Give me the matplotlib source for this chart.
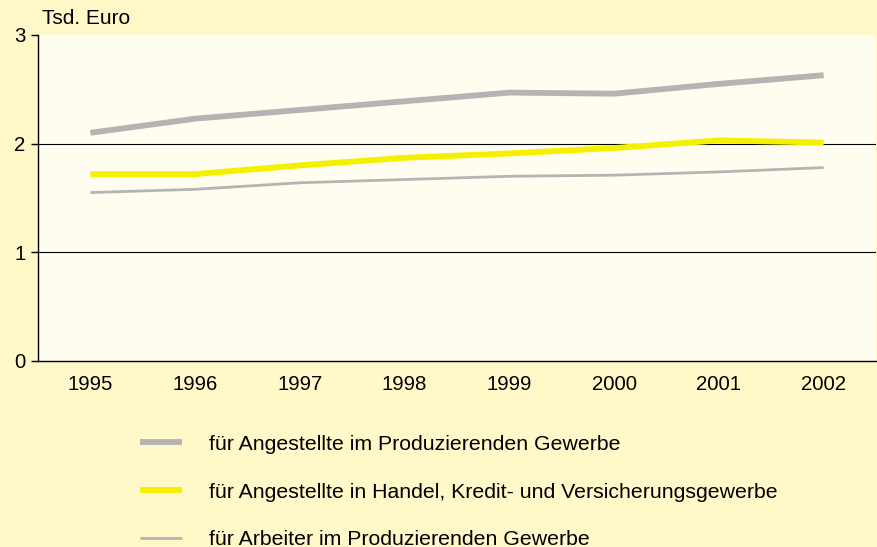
import matplotlib.pyplot as plt
import numpy as np

jahre = ['1995', '1996', '1997', '1998', '1999', '2000', '2001', '2002']
angestellte_prod = [2.10, 2.23, 2.31, 2.39, 2.47, 2.46, 2.55, 2.63]
angestellte_handel = [1.72, 1.72, 1.80, 1.87, 1.91, 1.96, 2.03, 2.01]
arbeiter_prod = [1.55, 1.58, 1.64, 1.67, 1.70, 1.71, 1.74, 1.78]

labels = ['für Angestellte im Produzierenden Gewerbe',
          'für Angestellte in Handel, Kredit- und Versicherungsgewerbe',
          'für Arbeiter im Produzierenden Gewerbe']

plt.rcParams['font.family'] = ['Liberation Sans', 'DejaVu Sans']

fig = plt.figure(figsize=(8.77, 5.47), dpi=100)
fig.patch.set_facecolor('#FFF8C8')
ax = fig.add_axes([38/877, 1-361/547, (876-38)/877, (361-35)/547])
ax.set_facecolor('#FFFDEF')

x = np.arange(len(jahre))
l1, = ax.plot(x, angestellte_prod, color='#B4B4B4', lw=4.2, solid_capstyle='butt', zorder=3)
l2, = ax.plot(x, angestellte_handel, color='#F5F000', lw=4.2, solid_capstyle='butt', zorder=3)
l3, = ax.plot(x, arbeiter_prod, color='#B4B4B4', lw=2.0, solid_capstyle='butt', zorder=3)

ax.set_xlim(-0.5, 7.5)
ax.set_ylim(0, 3)
ax.set_yticks([0, 1, 2, 3])
ax.set_xticks(x)
ax.set_xticklabels(jahre)
ax.tick_params(axis='x', length=0, pad=10, labelsize=14.7)
ax.tick_params(axis='y', length=5, width=1, pad=4, labelsize=14.7)
for v in [1, 2]:
    ax.axhline(v, color='black', lw=0.8, zorder=2)
ax.spines['top'].set_visible(False)
ax.spines['right'].set_visible(False)
ax.spines['left'].set_linewidth(1)
ax.spines['bottom'].set_linewidth(1)

fig.text(42/877, 1-19/547, 'Tsd. Euro', fontsize=15, va='center', ha='left')

fig.legend([l1, l2, l3], labels, loc='upper left',
           bbox_to_anchor=(121/877, 1-415.5/547), frameon=False,
           fontsize=15.3, handlelength=1.98, handletextpad=1.27,
           labelspacing=1.36)

fig.savefig('out.png', dpi=100, facecolor=fig.get_facecolor())
